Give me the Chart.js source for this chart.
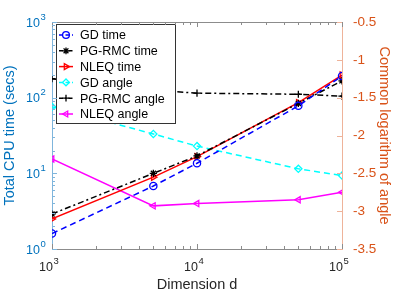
<!DOCTYPE html>
<html>
<head>
<meta charset="utf-8">
<script src="https://cdn.jsdelivr.net/npm/chart.js@4.4.1/dist/chart.umd.min.js"></script>
<style>
  body { margin: 0; background: #fff; }
</style>
</head>
<body>
<canvas id="chart" width="393" height="294"></canvas>
<script>
// values
const dims = [1000, 5000, 10000, 50000, 100000];
const gdTime = [1.6, 6.8, 13.6, 78, 193];
const pgTime = [2.9, 10, 17, 84, 167];
const nleqTime = [2.5, 8.9, 16.6, 86, 199];
const gdAngle = [-1.62, -1.98, -2.14, -2.44, -2.53];
const pgAngle = [-1.25, -1.40, -1.44, -1.455, -1.48];
const nleqAngle = [-2.31, -2.93, -2.90, -2.85, -2.75];
const dimTicks = [1000, 10000, 100000];
const timeTicks = [1, 10, 100, 1000];
const angleTicks = [-0.5, -1, -1.5, -2, -2.5, -3, -3.5];

const BLUE = "#0072BD";
const ORANGE = "#D95319";
const FONT = "'Liberation Sans', Arial, sans-serif";

function pts(ys) {
  return dims.map((d, i) => ({ x: d, y: ys[i] }));
}

function series(label, ys, color, dash, style, rot, axis) {
  return {
    label: label,
    data: pts(ys),
    yAxisID: axis,
    borderColor: color,
    backgroundColor: "rgba(0,0,0,0)",
    borderWidth: 1.5,
    borderDash: dash,
    pointStyle: style,
    pointRotation: rot,
    pointRadius: 3.6,
    pointBorderWidth: 1.3,
    pointBackgroundColor: "rgba(0,0,0,0)",
    tension: 0,
  };
}

// "10^n" labels with a raised exponent, like MATLAB's log axes
function drawPow(ctx, v, rightX, baseY, color) {
  const e = String(Math.round(Math.log10(v)));
  ctx.fillStyle = color;
  ctx.textBaseline = "alphabetic";
  ctx.font = "12.5px " + FONT;
  ctx.textAlign = "right";
  ctx.fillText("10", rightX, baseY);
  ctx.font = "9.5px " + FONT;
  ctx.textAlign = "left";
  ctx.fillText(e, rightX + 0.5, baseY - 7);
}

const powTicks = {
  id: "powTicks",
  afterDraw(chart) {
    const ctx = chart.ctx;
    const a = chart.chartArea;
    ctx.save();
    dimTicks.forEach((v) => {
      const px = chart.scales.x.getPixelForValue(v);
      drawPow(ctx, v, px + 1, a.bottom + 22, "#262626");
    });
    timeTicks.forEach((v) => {
      const py = chart.scales.y.getPixelForValue(v);
      drawPow(ctx, v, a.left - 12, py + 4.5, BLUE);
    });
    ctx.restore();
  },
};

// inward tick marks + top frame line
const frame = {
  id: "frame",
  afterDraw(chart) {
    const ctx = chart.ctx;
    const a = chart.chartArea;
    const sx = chart.scales.x, sy = chart.scales.y, sy1 = chart.scales.y1;
    ctx.save();
    ctx.lineWidth = 1;
    ctx.strokeStyle = "#8c8c8c";
    ctx.beginPath();
    ctx.moveTo(a.left, a.top + 0.5);
    ctx.lineTo(a.right, a.top + 0.5);
    ctx.stroke();
    for (let e = 3; e <= 5; e++) {
      for (let m = 1; m <= 9; m++) {
        const v = m * Math.pow(10, e);
        if (v > 100000) break;
        const px = Math.round(sx.getPixelForValue(v)) + 0.5;
        const len = m === 1 ? 5 : 3;
        ctx.beginPath();
        ctx.moveTo(px, a.bottom);
        ctx.lineTo(px, a.bottom - len);
        ctx.moveTo(px, a.top);
        ctx.lineTo(px, a.top + len);
        ctx.stroke();
      }
    }
    ctx.strokeStyle = "#7fb5dc";
    for (let e = 0; e <= 3; e++) {
      for (let m = 1; m <= 9; m++) {
        const v = m * Math.pow(10, e);
        if (v > 1000) break;
        const py = Math.round(sy.getPixelForValue(v)) + 0.5;
        const len = m === 1 ? 5 : 3;
        ctx.beginPath();
        ctx.moveTo(a.left, py);
        ctx.lineTo(a.left + len, py);
        ctx.stroke();
      }
    }
    ctx.strokeStyle = "#eeb39a";
    angleTicks.forEach((v) => {
      const py = Math.round(sy1.getPixelForValue(v)) + 0.5;
      ctx.beginPath();
      ctx.moveTo(a.right, py);
      ctx.lineTo(a.right - 5, py);
      ctx.stroke();
    });
    ctx.restore();
  },
};

// legend box inside the plot, top left
const boxLegend = {
  id: "boxLegend",
  afterDatasetsDraw(chart) {
    const ctx = chart.ctx;
    const a = chart.chartArea;
    const x0 = a.left + 4, y0 = a.top + 2, w = 119, h = 99, rowH = 15.8;
    ctx.save();
    ctx.fillStyle = "#fff";
    ctx.fillRect(x0, y0, w, h);
    ctx.strokeStyle = "#333";
    ctx.lineWidth = 1;
    ctx.strokeRect(x0 + 0.5, y0 + 0.5, w, h);
    ctx.font = "12.5px " + FONT;
    ctx.textBaseline = "middle";
    chart.data.datasets.forEach((ds, i) => {
      const cy = y0 + 11 + i * rowH;
      ctx.strokeStyle = ds.borderColor;
      ctx.lineWidth = 1.5;
      ctx.setLineDash(ds.borderDash.length ? [4, 2.5] : []);
      if (ds.borderDash.length === 4) ctx.setLineDash([4, 2, 1.5, 2]);
      ctx.beginPath();
      ctx.moveTo(x0 + 3, cy);
      ctx.lineTo(x0 + 17, cy);
      ctx.stroke();
      ctx.setLineDash([]);
      ctx.fillStyle = "rgba(0,0,0,0)";
      ctx.lineWidth = 1.3;
      Chart.helpers.drawPoint(ctx, {
        pointStyle: ds.pointStyle,
        rotation: ds.pointRotation,
        radius: 3.4,
        borderWidth: 1.3,
      }, x0 + 10, cy);
      ctx.fillStyle = "#000";
      ctx.fillText(ds.label, x0 + 24, cy + 1);
    });
    ctx.restore();
  },
};

new Chart(document.getElementById("chart").getContext("2d"), {
  type: "line",
  data: {
    datasets: [
      series("GD time", gdTime, "#0000ff", [6, 4], "circle", 0, "y"),
      series("PG-RMC time", pgTime, "#000000", [6, 3, 2, 3], "star", 0, "y"),
      series("NLEQ time", nleqTime, "#ff0000", [], "triangle", 90, "y"),
      series("GD angle", gdAngle, "#00ffff", [6, 4], "rectRot", 0, "y1"),
      series("PG-RMC angle", pgAngle, "#000000", [6, 3, 2, 3], "cross", 0, "y1"),
      series("NLEQ angle", nleqAngle, "#ff00ff", [], "triangle", -90, "y1"),
    ],
  },
  options: {
    responsive: false,
    animation: false,
    layout: { padding: { top: 22, left: 0, right: 0, bottom: 0 } },
    plugins: { legend: { display: false }, tooltip: { enabled: false } },
    scales: {
      x: {
        type: "logarithmic",
        min: 1000,
        max: 100000,
        grid: { display: false },
        border: { display: true, color: "#8c8c8c", width: 1 },
        afterFit: (s) => { s.height = 45; },
        ticks: { display: false },
        title: {
          display: true,
          text: "Dimension d",
          color: "#262626",
          font: { family: FONT, size: 14.5 },
          padding: { top: 0, bottom: 0 },
        },
      },
      y: {
        type: "logarithmic",
        position: "left",
        min: 1,
        max: 1000,
        grid: { display: false },
        border: { display: true, color: "#7fb5dc", width: 1 },
        afterFit: (s) => { s.width = 52; },
        ticks: { display: false },
        title: {
          display: true,
          text: "Total CPU time (secs)",
          color: BLUE,
          font: { family: FONT, size: 14.5 },
          padding: { top: 1, bottom: 0 },
        },
      },
      y1: {
        type: "linear",
        position: "right",
        min: -3.5,
        max: -0.5,
        grid: { display: false },
        border: { display: true, color: "#eeb39a", width: 1 },
        afterFit: (s) => { s.width = 51; },
        afterBuildTicks: (s) => { s.ticks = angleTicks.map((v) => ({ value: v })); },
        ticks: {
          autoSkip: false,
          padding: 3,
          color: ORANGE,
          font: { family: FONT, size: 13.5 },
          callback: (v) => String(v),
        },
        title: {
          display: true,
          text: "Common logarithm of angle",
          color: ORANGE,
          font: { family: FONT, size: 14.5 },
          padding: { top: 0, bottom: 1 },
        },
      },
    },
  },
  plugins: [frame, boxLegend, powTicks],
});
</script>
</body>
</html>
